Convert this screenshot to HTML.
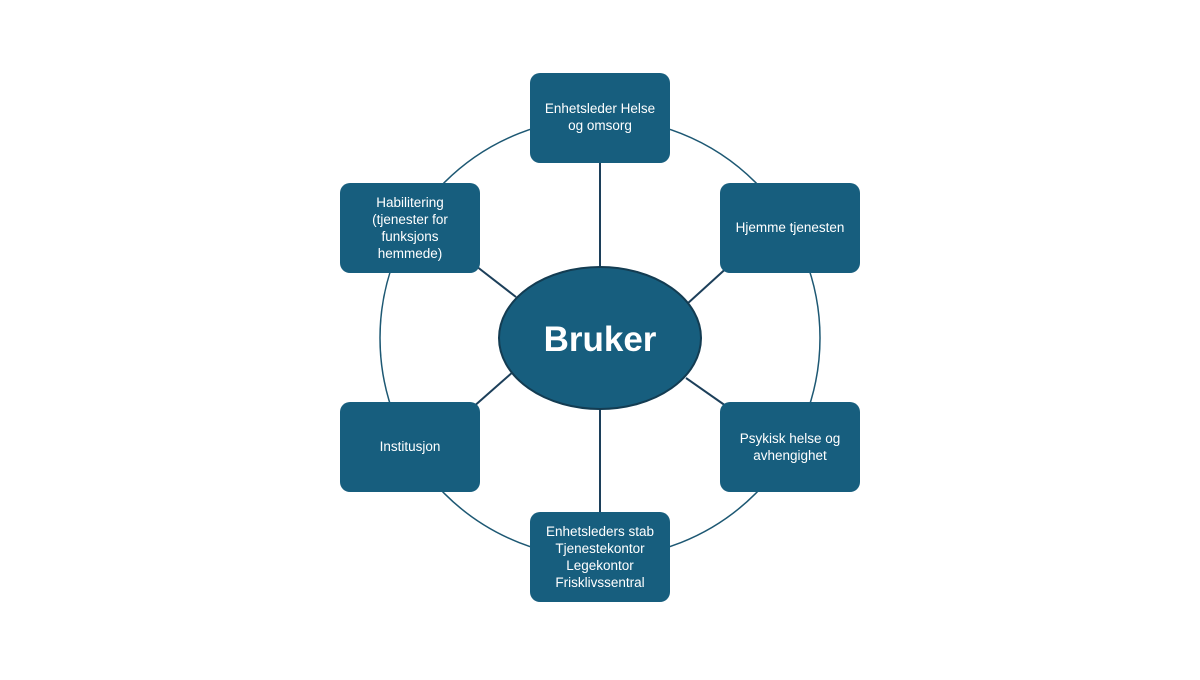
<!DOCTYPE html>
<html><head><style>
body{margin:0;background:#fff;}
svg text{font-family:"Liberation Sans",sans-serif;fill:#fff;}
</style></head><body>
<svg width="1200" height="675" viewBox="0 0 1200 675" xmlns="http://www.w3.org/2000/svg">
<circle cx="600" cy="338" r="220" fill="none" stroke="#1d5873" stroke-width="1.5"/>
<g stroke="#1c3f5a" stroke-width="2">
<line x1="600" y1="163" x2="600" y2="268"/>
<line x1="600" y1="408" x2="600" y2="512"/>
<line x1="731" y1="264" x2="687" y2="304"/>
<line x1="476" y1="266" x2="516" y2="297"/>
<line x1="472" y1="408" x2="514" y2="371"/>
<line x1="726" y1="406" x2="686" y2="378"/>
</g>
<g fill="#175e7e">
<rect x="530" y="73" width="140" height="90" rx="10"/>
<rect x="720" y="183" width="140" height="90" rx="10"/>
<rect x="720" y="402" width="140" height="90" rx="10"/>
<rect x="530" y="512" width="140" height="90" rx="10"/>
<rect x="340" y="402" width="140" height="90" rx="10"/>
<rect x="340" y="183" width="140" height="90" rx="10"/>
</g>
<ellipse cx="600" cy="338" rx="101" ry="71" fill="#175e7e" stroke="#133c52" stroke-width="2"/>
<text x="600" y="351" font-size="35" font-weight="bold" text-anchor="middle">Bruker</text>
<g font-size="13.5" text-anchor="middle">
<text x="600" y="113">Enhetsleder Helse</text>
<text x="600" y="130">og omsorg</text>
<text x="790" y="232">Hjemme tjenesten</text>
<text x="790" y="443">Psykisk helse og</text>
<text x="790" y="460">avhengighet</text>
<text x="410" y="451">Institusjon</text>
<text x="410" y="207">Habilitering</text>
<text x="410" y="224">(tjenester for</text>
<text x="410" y="241">funksjons</text>
<text x="410" y="258">hemmede)</text>
<text x="600" y="536">Enhetsleders stab</text>
<text x="600" y="553">Tjenestekontor</text>
<text x="600" y="570">Legekontor</text>
<text x="600" y="587">Frisklivssentral</text>
</g>
</svg>
</body></html>
